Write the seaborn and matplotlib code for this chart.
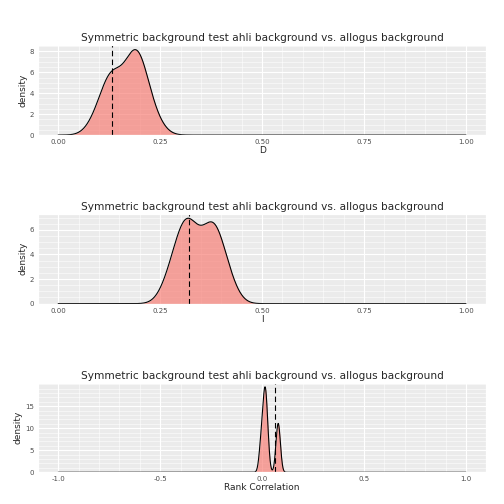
import numpy as np
import matplotlib
matplotlib.use("Agg")
import matplotlib.pyplot as plt
import seaborn as sns

# replicate values (read off approx. from the reference densities)
d_vals = [0.09, 0.11, 0.12, 0.125, 0.13, 0.135, 0.14, 0.15, 0.165, 0.175, 0.18,
          0.185, 0.19, 0.19, 0.195, 0.20, 0.205, 0.21, 0.22, 0.24]
i_vals = [0.27, 0.29, 0.30, 0.31, 0.315, 0.32, 0.33, 0.34, 0.36, 0.37, 0.38,
          0.38, 0.39, 0.40, 0.42]
rc_vals = [-0.01, -0.005, 0.0, 0.005, 0.008, 0.01, 0.012, 0.014, 0.016, 0.018,
           0.02, 0.022, 0.025, 0.03, 0.07, 0.075, 0.078, 0.08, 0.083, 0.088]
observed = [0.133, 0.32, 0.065]
bws = [0.024, 0.024, 0.009]
xlabels = ["D", "I", "Rank Correlation"]
xlims = [(0, 1), (0, 1), (-1, 1)]
xticks = [[0, 0.25, 0.5, 0.75, 1.0], [0, 0.25, 0.5, 0.75, 1.0], [-1, -0.5, 0, 0.5, 1]]
xticklabels = [["0.00", "0.25", "0.50", "0.75", "1.00"]] * 2 + [["-1.0", "-0.5", "0.0", "0.5", "1.0"]]
yticks = [[0, 2, 4, 6, 8], [0, 2, 4, 6], [0, 5, 10, 15]]
title = "Symmetric background test ahli background vs. allogus background"

sns.set_theme(style="darkgrid", rc={"axes.facecolor": "#EBEBEB", "grid.color": "white"})
fig, axes = plt.subplots(3, 1, figsize=(7, 7), dpi=72)
fig.subplots_adjust(left=0.075, right=0.965, top=0.91, bottom=0.063, hspace=0.88)

for ax, vals, obs, bw, xl, lim, xt, xtl, yt in zip(axes, [d_vals, i_vals, rc_vals], observed,
                                                    bws, xlabels, xlims, xticks, xticklabels, yticks):
    factor = bw / np.std(vals, ddof=1)
    sns.kdeplot(x=vals, ax=ax, bw_method=factor, cut=200, clip=lim, gridsize=2000,
                fill=True, color="#F8766D", alpha=0.65, linewidth=0)
    sns.kdeplot(x=vals, ax=ax, bw_method=factor, cut=200, clip=lim, gridsize=2000,
                color="black", linewidth=1.1)
    ax.axvline(obs, color="black", linestyle=(0, (5, 3)), linewidth=1.1)
    ax.set_xlim(lim[0] - 0.05 * (lim[1] - lim[0]), lim[1] + 0.05 * (lim[1] - lim[0]))
    ax.set_xticks(xt)
    ax.set_xticklabels(xtl)
    ax.set_yticks(yt)
    ax.minorticks_on()
    ax.grid(which="minor", color="white", linewidth=0.5)
    ax.grid(which="major", color="white", linewidth=1.1)
    ax.tick_params(which="minor", length=0)
    ax.set_title(title, fontsize=10.5, pad=4)
    ax.set_xlabel(xl, fontsize=9, labelpad=1)
    ax.set_ylabel("density", fontsize=9, labelpad=2)
    ax.tick_params(which="major", labelsize=7, length=2, pad=2, labelcolor="#4D4D4D")

fig.savefig("out.png", dpi=72)
